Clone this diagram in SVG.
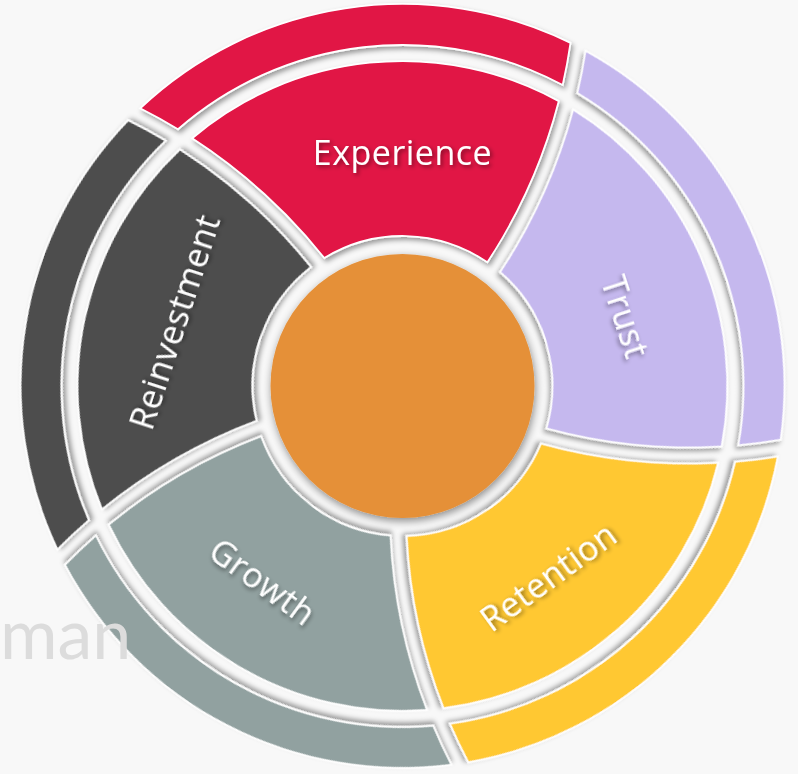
<svg xmlns="http://www.w3.org/2000/svg" xmlns:xlink="http://www.w3.org/1999/xlink" width="798" height="774" viewBox="0 0 798 774">
  <style>
    .shape { stroke: #ffffff; stroke-width: 1.8; stroke-linejoin: miter; filter: url(#shadow); }
    .label { font-family: "Open Sans", "Noto Sans", "DejaVu Sans", sans-serif; font-size: 34px; letter-spacing: 0.5px; fill: #ffffff; text-anchor: middle; filter: url(#textShadow); }
    .ghost { font-family: Lato, "Open Sans", "DejaVu Sans", sans-serif; font-size: 70px; fill: #dcdcdc; text-anchor: start; }
  </style>
  <defs>
    <filter id="shadow" x="-20%" y="-20%" width="140%" height="140%">
      <feDropShadow dx="2" dy="3" stdDeviation="2.5" flood-color="#000000" flood-opacity="0.38"/>
    </filter>
    <filter id="hubShadow" x="-20%" y="-20%" width="140%" height="140%">
      <feDropShadow dx="1" dy="3" stdDeviation="4" flood-color="#000000" flood-opacity="0.45"/>
    </filter>
    <filter id="textShadow" x="-20%" y="-40%" width="140%" height="180%">
      <feDropShadow dx="2" dy="2" stdDeviation="2" flood-color="#000000" flood-opacity="0.45"/>
    </filter>
    <!-- inner wedge of one sector, drawn around the hub centre, pointing up -->
    <path id="wedge" d="M -210.3,-247.7 A 325 325 0 0 1 156.3,-284.9 A 542 542 0 0 1 84.9,-123.7 A 150 150 0 0 0 -78.2,-128.0 A 558 558 0 0 0 -210.3,-247.7 Z"/>
    <!-- outer band of one sector -->
    <path id="band" d="M -262.3,-277.7 A 382 382 0 0 1 168.0,-343.1 A 542 542 0 0 1 160.2,-301.0 A 341 341 0 0 0 -224.5,-256.7 A 558 558 0 0 0 -262.3,-277.7 Z"/>
  </defs>

  <rect width="798" height="774" fill="#f8f8f8"/>

  <g transform="translate(402.5,386)">
    <g id="experience">
      <use xlink:href="#wedge" class="shape" fill="#e11445"/>
      <use xlink:href="#band" class="shape" fill="#e11445"/>
    </g>
    <g id="trust">
      <g transform="rotate(72)">
        <use xlink:href="#wedge" class="shape" fill="#c5b8ee"/>
        <use xlink:href="#band" class="shape" fill="#c5b8ee"/>
      </g>
    </g>
    <g id="retention">
      <g transform="rotate(144)">
        <use xlink:href="#wedge" class="shape" fill="#ffc830"/>
        <use xlink:href="#band" class="shape" fill="#ffc830"/>
      </g>
    </g>
    <g id="growth">
      <g transform="rotate(216)">
        <use xlink:href="#wedge" class="shape" fill="#91a1a0"/>
        <use xlink:href="#band" class="shape" fill="#91a1a0"/>
      </g>
    </g>
    <g id="reinvestment">
      <g transform="rotate(288)">
        <use xlink:href="#wedge" class="shape" fill="#4d4d4d"/>
        <use xlink:href="#band" class="shape" fill="#4d4d4d"/>
      </g>
    </g>
    <g id="hub">
      <circle r="132" fill="#e59039" filter="url(#hubShadow)"/>
    </g>
  </g>

  <text class="ghost" x="0" y="659">man</text>

  <g id="labels">
    <text class="label" transform="translate(402.5,153)" dy="0.35em">Experience</text>
    <text class="label" transform="translate(625,317) rotate(72)" dy="0.35em">Trust</text>
    <text class="label" transform="translate(548.5,577) rotate(-36)" dy="0.35em">Retention</text>
    <text class="label" transform="translate(262.5,582) rotate(36)" dy="0.35em">Growth</text>
    <text class="label" transform="translate(175,322) rotate(-72)" dy="0.35em">Reinvestment</text>
  </g>
</svg>
